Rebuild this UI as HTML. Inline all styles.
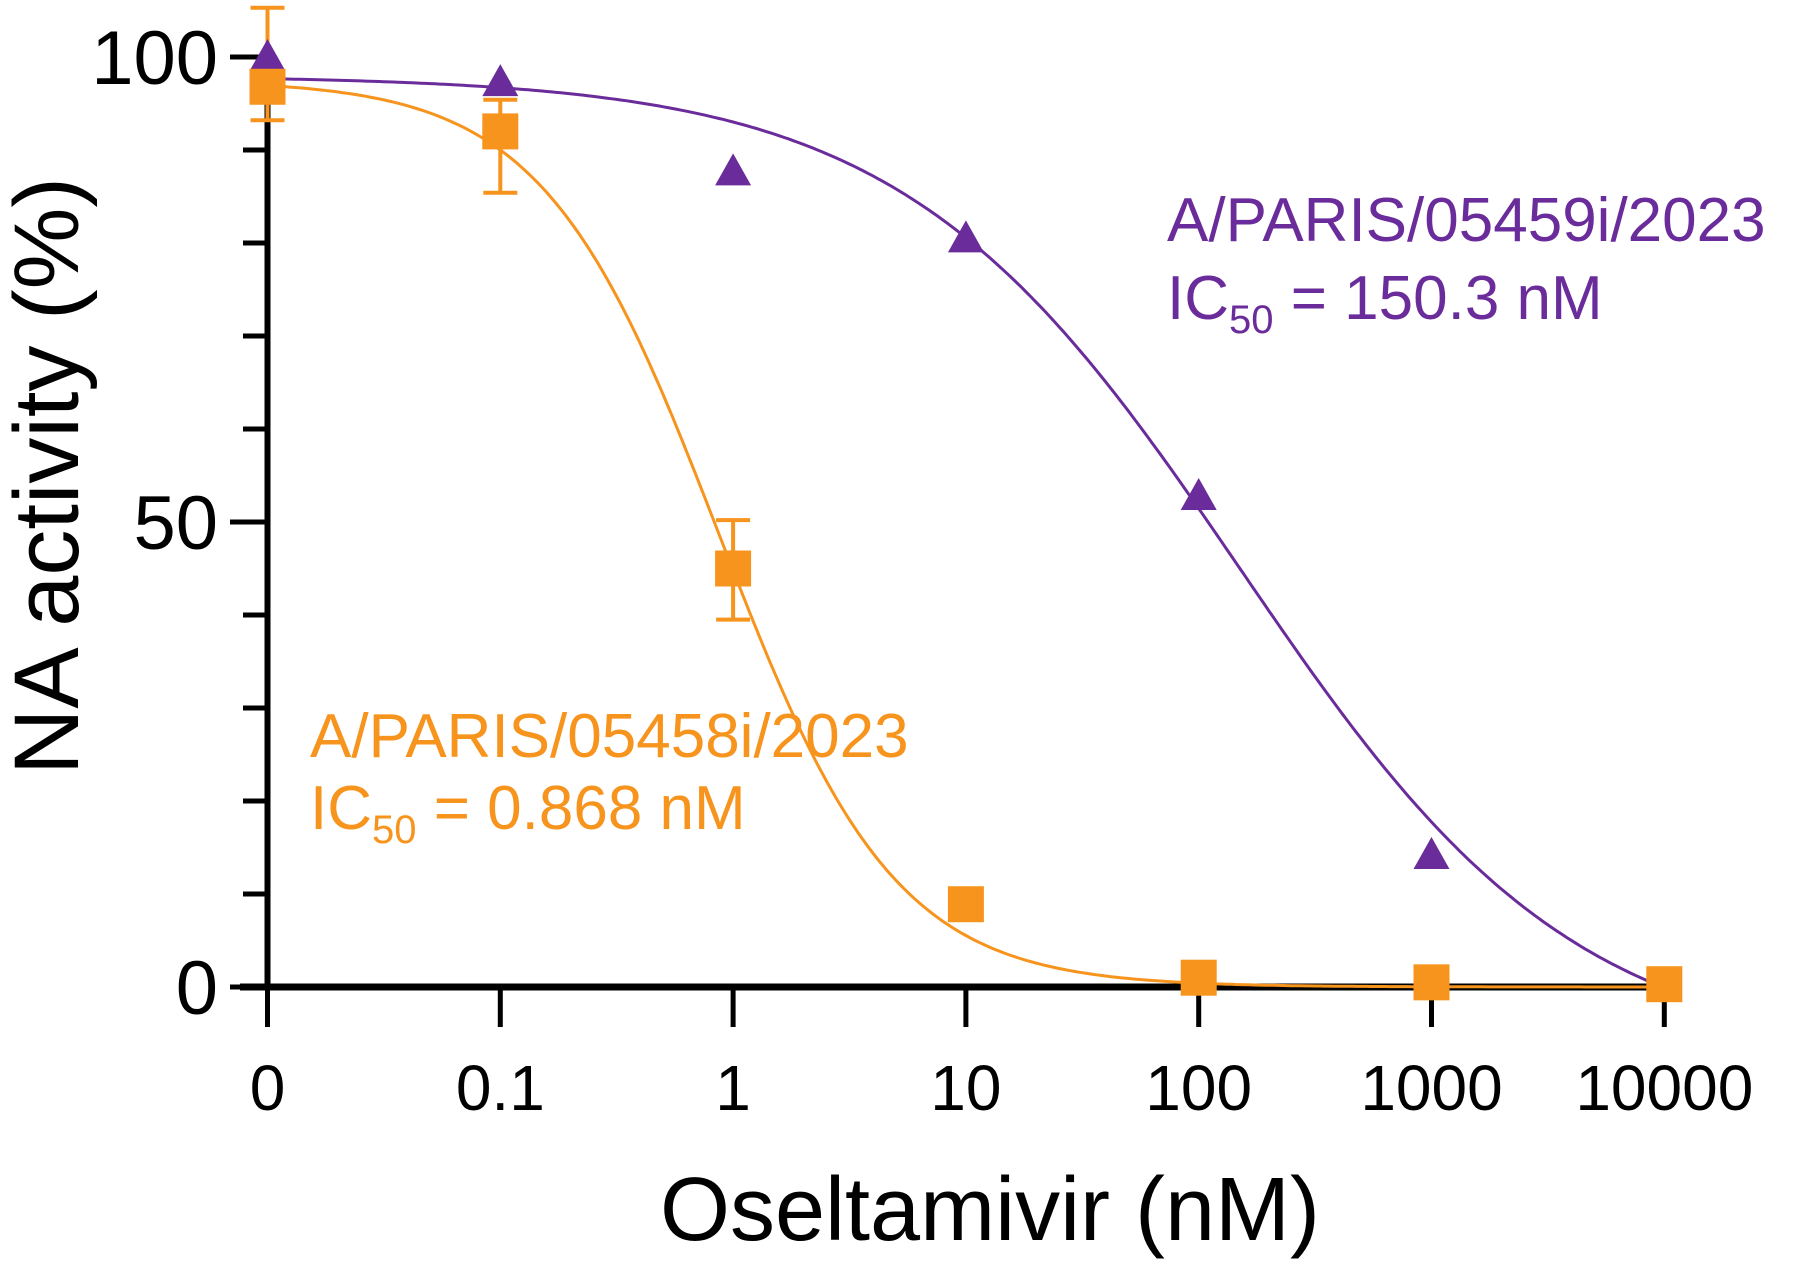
<!DOCTYPE html>
<html><head><meta charset="utf-8"><style>
body{margin:0;background:#fff}
svg{display:block;font-family:"Liberation Sans",Arial,sans-serif}
</style></head><body>
<svg id="chart" width="1800" height="1263" viewBox="0 0 1800 1263"></svg>
<script>
const xLabels=["0","0.1","1","10","100","1000","10000"];
const xValues=[0.01,0.1,1,10,100,1000,10000];
const yTicks=[0,50,100];
const purpleVals=[100,97.3,87.7,80.5,52.8,14.2,0];
const orangeVals=[96.8,92,45,8.9,1,0.5,0.3];
const orangeErrHi=[105.3,95.4,50.2,9.5,1.3,0.8,0.5];
const orangeErrLo=[93.2,85.4,39.5,8.3,0.7,0.2,0.1];
const orangeFit=[97.5,0,0.868,1.15];
const purpleFit=[98,-8,150.3,0.6];
const NS="http://www.w3.org/2000/svg";
const svg=document.getElementById('chart');
const X=v=>267.5+(Math.log10(v)+2)*232.8;
const Y=v=>987-v*9.3;
function mk(t,a,p){const e=document.createElementNS(NS,t);for(const k in a)e.setAttribute(k,a[k]);(p||svg).appendChild(e);return e;}
const OR="#F7941D",PU="#6A2C9A";
for(let v=0;v<=100;v+=10){const t=mk('line',{x1:(v%50===0?230:243),x2:268,y1:Y(v),y2:Y(v),stroke:'#000','stroke-width':5});

}
yTicks.forEach(v=>{const t=mk('text',{x:218,y:Y(v)+27,'text-anchor':'end','font-size':76});t.textContent=v;

});
xValues.forEach((v,i)=>{const t=mk('line',{x1:X(v),x2:X(v),y1:987,y2:1027,stroke:'#000','stroke-width':5});


const l=mk('text',{x:X(v),y:1110,'text-anchor':'middle','font-size':64});l.textContent=xLabels[i];

});
const ya=mk('line',{x1:267.5,x2:267.5,y1:Y(100)-2,y2:990,stroke:'#000','stroke-width':6});


const xa=mk('line',{x1:240,x2:1668,y1:987,y2:987,stroke:'#000','stroke-width':7});


function curve(f,col,name){let d='';for(let lx=-2;lx<=4.001;lx+=0.02){const v=Math.pow(10,lx);let y=f[1]+(f[0]-f[1])/(1+Math.pow(v/f[2],f[3]));if(y<0){break;}d+=(d?'L':'M')+X(v).toFixed(1)+','+Y(y).toFixed(1);}
const p=mk('path',{d:d,fill:'none',stroke:col,'stroke-width':3});

}
curve(purpleFit,PU,'purple-fit-curve');
curve(orangeFit,OR,'orange-fit-curve');
xValues.forEach((v,i)=>{const x=X(v);
const e=mk('path',{d:`M${x-17},${Y(orangeErrHi[i])}H${x+17}M${x},${Y(orangeErrHi[i])}V${Y(orangeErrLo[i])}M${x-17},${Y(orangeErrLo[i])}H${x+17}`,stroke:OR,'stroke-width':4,fill:'none'});


const y=Y(purpleVals[i]);
const t=mk('path',{d:`M${x},${y-18}L${x+18},${y+14}L${x-18},${y+14}Z`,fill:PU});


const s=mk('rect',{x:x-18,y:Y(orangeVals[i])-18,width:36,height:36,fill:OR});

});
function lbl(x,y,txt,col,name,size,anch){const t=mk('text',{x:x,y:y,fill:col,'font-size':size,'text-anchor':anch||'start'});t.innerHTML=txt;

return t;}
lbl(1167,241,'A/PARIS/05459i/2023',PU,'purple-strain-label',62);
lbl(1167,319,'IC<tspan font-size="40" dy="14">50</tspan><tspan dy="-14"> = 150.3 nM</tspan>',PU,'purple-ic50-label',62);
lbl(310,757,'A/PARIS/05458i/2023',OR,'orange-strain-label',62);
lbl(310,829,'IC<tspan font-size="40" dy="14">50</tspan><tspan dy="-14"> = 0.868 nM</tspan>',OR,'orange-ic50-label',62);
lbl(990,1240,'Oseltamivir (nM)','#000','x-axis-title',90,'middle');
const yt=lbl(0,0,'NA activity (%)','#000','y-axis-title',92,'middle');
yt.setAttribute('transform','translate(78,476) rotate(-90)');
</script>
</body></html>
